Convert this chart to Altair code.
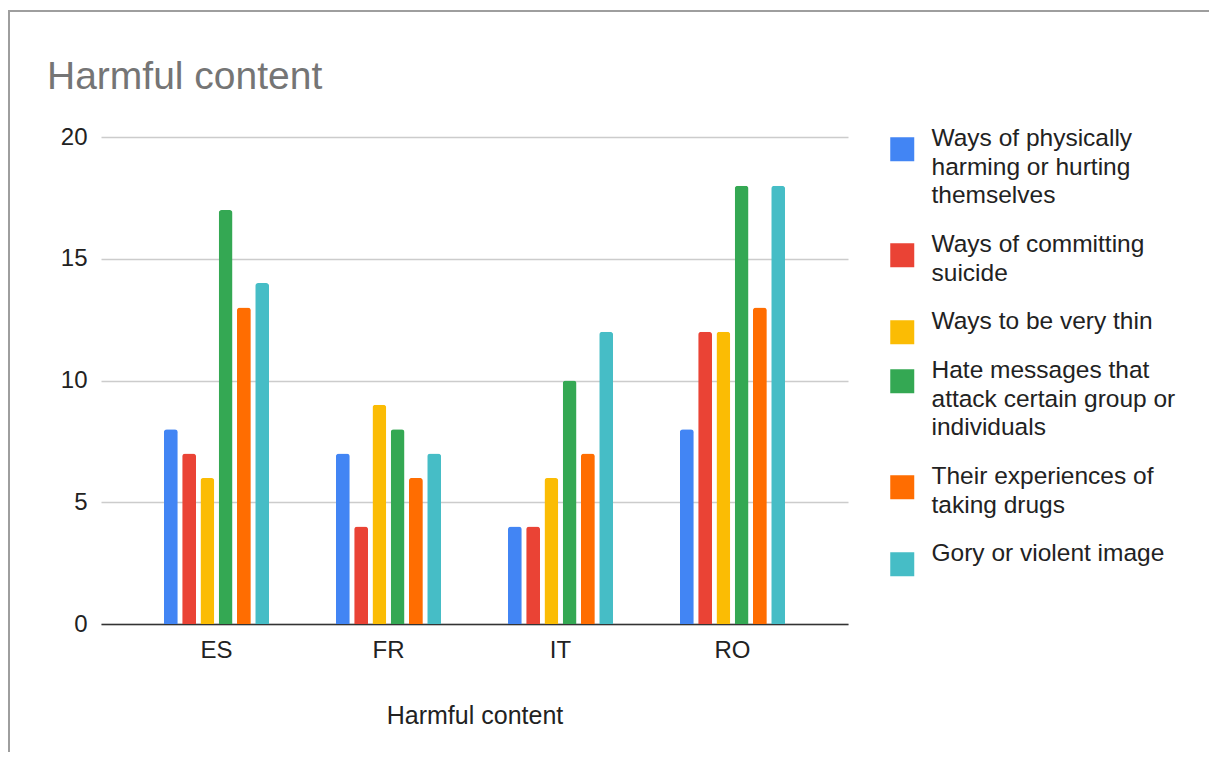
import json
import altair as alt
import pandas as pd

countries = ["ES", "FR", "IT", "RO"]
series = [
    "Ways of physically harming or hurting themselves",
    "Ways of committing suicide",
    "Ways to be very thin",
    "Hate messages that attack certain group or individuals",
    "Their experiences of taking drugs",
    "Gory or violent image",
]
series_lines = [
    ["Ways of physically", "harming or hurting", "themselves"],
    ["Ways of committing", "suicide"],
    ["Ways to be very thin"],
    ["Hate messages that", "attack certain group or", "individuals"],
    ["Their experiences of", "taking drugs"],
    ["Gory or violent image"],
]
colors = ["#4285F4", "#EA4335", "#FBBC04", "#34A853", "#FF6D01", "#46BDC6"]

values = {
    "Ways of physically harming or hurting themselves": [8, 7, 4, 8],
    "Ways of committing suicide": [7, 4, 4, 12],
    "Ways to be very thin": [6, 9, 6, 12],
    "Hate messages that attack certain group or individuals": [17, 8, 10, 18],
    "Their experiences of taking drugs": [13, 6, 7, 13],
    "Gory or violent image": [14, 7, 12, 18],
}

rows = []
for s in series:
    for c, v in zip(countries, values[s]):
        rows.append({"country": c, "series": s, "value": v})
df = pd.DataFrame(rows)

# trailing empty line gives every legend entry the same spacing below its text
label_map = json.dumps({s: lines + [""] for s, lines in zip(series, series_lines)})
FONT = "Liberation Sans"

W, H = 747, 487
PL, PT = 93, 129
PR = 1201 - PL - W
PB = 744 - PT - H

bars = alt.Chart(df).mark_bar(
    cornerRadiusTopLeft=3, cornerRadiusTopRight=3
).encode(
    x=alt.X(
        "country:N",
        sort=countries,
        scale=alt.Scale(paddingInner=0.363, paddingOuter=0.353),
        axis=alt.Axis(
            title="Harmful content",
            labelAngle=0,
            labelFontSize=24,
            labelColor="#222222",
            labelPadding=14,
            titleFontSize=25,
            titleFontWeight="normal",
            titleColor="#222222",
            titlePadding=41,
            ticks=False,
            domainColor="#333333",
            domainWidth=1.5,
            grid=False,
        ),
    ),
    xOffset=alt.XOffset(
        "series:N", sort=series,
        scale=alt.Scale(paddingInner=0.24, paddingOuter=0.12),
    ),
    y=alt.Y(
        "value:Q",
        scale=alt.Scale(domain=[0, 20], nice=False),
        axis=alt.Axis(
            title=None,
            values=[0, 5, 10, 15, 20],
            labelFontSize=24,
            labelColor="#222222",
            labelPadding=14,
            ticks=False,
            domain=False,
            gridColor="#cccccc",
            gridWidth=1.5,
        ),
    ),
    color=alt.Color(
        "series:N",
        sort=series,
        scale=alt.Scale(domain=series, range=colors),
        legend=alt.Legend(
            title=None,
            orient="none",
            legendX=789,
            legendY=-3,
            symbolType="M-1,-0.75H1V1.25H-1Z",
            symbolSize=576,
            symbolStrokeWidth=0,
            symbolOpacity=1,
            labelFontSize=24.5,
            labelColor="#222222",
            labelBaseline="alphabetic",
            labelOffset=17,
            labelLimit=400,
            rowPadding=-5,
            padding=0,
            labelExpr=label_map + "[datum.label]",
        ),
    ),
)

border = alt.Chart(pd.DataFrame({"a": [0]})).mark_rect(
    fill="transparent", stroke="#9e9e9e", strokeWidth=2
).encode(
    x=alt.value(-PL + 1),
    y=alt.value(-PT + 3),
    x2=alt.value(W + PR + 20),
    y2=alt.value(H + PB + 20),
)

chart = alt.layer(border, bars).properties(
    width=W,
    height=H,
    padding={"left": PL, "top": PT, "right": PR, "bottom": PB},
    autosize=alt.AutoSizeParams(type="none"),
    title=alt.Title(
        "Harmful content",
        anchor="start",
        frame="group",
        fontSize=39,
        font=FONT,
        fontWeight="normal",
        color="#757575",
        baseline="alphabetic",
        dx=-54,
        dy=118,
        offset=0,
    ),
).configure(
    font=FONT, style={"guide-label": {"lineHeight": 28.5}}
).configure_view(stroke=None)

chart.save("out.html", embed_options={"renderer": "svg", "actions": False})
